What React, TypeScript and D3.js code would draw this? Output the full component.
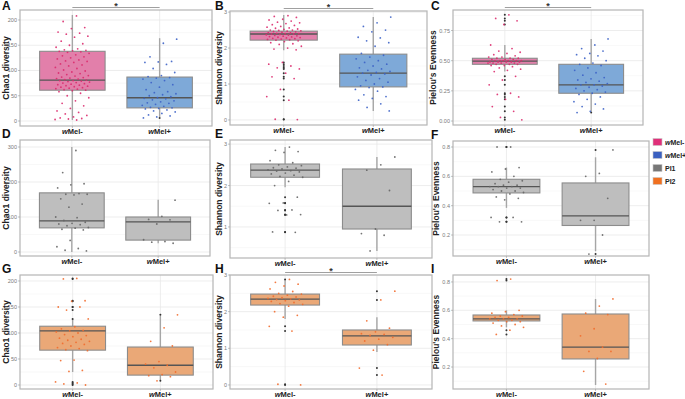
import React from 'react';
import * as d3 from 'd3';

/* ── Data ───────────────────────────────────────────────────────── */
// jittered samples, one array per panel & group
const chaoAllNeg = [208, 197, 185, 183, 176, 174, 172, 168, 166, 158, 153, 150, 146, 143, 141, 140, 139, 138, 137, 136, 134, 131, 129, 127, 125, 123, 121, 119, 118, 116, 113, 111, 109, 106, 104, 101, 99, 97, 95, 94, 92, 90, 89, 87, 86, 85, 84, 83, 82, 81, 80, 80, 79, 78, 77, 76, 75, 74, 73, 72, 71, 70, 69, 68, 67, 66, 65, 64, 63, 62, 61, 60, 58, 55, 50, 46, 40, 35, 30, 25, 20, 17, 14, 11, 8, 6, 5, 4, 3, 2];
const chaoAllPos = [162, 154, 127, 118, 117, 116, 112, 104, 96, 90, 88, 86, 85, 83, 80, 76, 72, 67, 62, 58, 56, 54, 52, 50, 48, 46, 45, 44, 42, 40, 38, 36, 35, 33, 31, 29, 27, 26, 25, 24, 22, 20, 18, 15, 12, 10, 8, 6];
const shanAllNeg = [2.9, 2.88, 2.85, 2.8, 2.78, 2.75, 2.72, 2.7, 2.68, 2.65, 2.63, 2.6, 2.58, 2.56, 2.55, 2.53, 2.52, 2.5, 2.5, 2.49, 2.48, 2.47, 2.46, 2.45, 2.44, 2.43, 2.42, 2.41, 2.4, 2.4, 2.39, 2.39, 2.38, 2.37, 2.36, 2.35, 2.34, 2.33, 2.32, 2.31, 2.3, 2.29, 2.28, 2.27, 2.26, 2.25, 2.24, 2.23, 2.22, 2.2, 2.18, 2.15, 2.12, 2.1, 2.05, 2.0, 1.97, 1.95, 1.6, 1.55, 1.5, 1.45, 1.42, 1.3, 1.2, 1.15, 0.85, 0.65, 0.55, 0.02, 0.01];
const shanAllPos = [2.86, 2.7, 2.6, 2.5, 2.45, 2.3, 2.28, 2.2, 2.15, 2.05, 1.85, 1.8, 1.75, 1.7, 1.65, 1.6, 1.55, 1.5, 1.45, 1.42, 1.38, 1.35, 1.32, 1.3, 1.28, 1.25, 1.2, 1.15, 1.1, 1.05, 1.0, 0.95, 0.92, 0.9, 0.85, 0.8, 0.7, 0.65, 0.6, 0.55, 0.45, 0.35, 0.25];
const pielAllNeg = [0.88, 0.85, 0.83, 0.8, 0.63, 0.6, 0.58, 0.57, 0.56, 0.55, 0.54, 0.53, 0.53, 0.52, 0.52, 0.52, 0.51, 0.51, 0.51, 0.5, 0.5, 0.5, 0.5, 0.5, 0.5, 0.49, 0.49, 0.49, 0.49, 0.49, 0.48, 0.48, 0.48, 0.48, 0.47, 0.47, 0.47, 0.46, 0.46, 0.45, 0.44, 0.43, 0.42, 0.41, 0.37, 0.34, 0.3, 0.23, 0.22, 0.2, 0.18, 0.12, 0.08, 0.03, 0.01];
const pielAllPos = [0.68, 0.63, 0.6, 0.58, 0.56, 0.55, 0.54, 0.52, 0.5, 0.48, 0.47, 0.46, 0.44, 0.42, 0.4, 0.38, 0.36, 0.35, 0.34, 0.33, 0.32, 0.31, 0.3, 0.3, 0.29, 0.28, 0.27, 0.26, 0.25, 0.24, 0.23, 0.22, 0.2, 0.18, 0.16, 0.14, 0.12, 0.1, 0.08, 0.07];

const chaoPI1Neg = [290, 227, 195, 192, 183, 167, 165, 165, 163, 152, 137, 128, 100, 98, 90, 85, 82, 80, 78, 75, 70, 68, 65, 63, 33, 15, 10, 5, 3];
const chaoPI1Pos = [148, 102, 93, 92, 80, 35, 30, 28, 25];
const shanPI1Neg = [2.93, 2.85, 2.82, 2.8, 2.6, 2.55, 2.5, 2.48, 2.45, 2.43, 2.42, 2.4, 2.38, 2.36, 2.35, 2.33, 2.3, 2.28, 2.25, 2.22, 2.2, 2.1, 2.0, 1.72, 1.58, 1.57, 1.41, 1.4, 1.3, 1.29, 0.88, 0.87];
const shanPI1Pos = [2.69, 2.5, 2.37, 1.88, 0.95, 0.84, 0.8, 0.42];
const pielPI1Neg = [0.8, 0.8, 0.66, 0.65, 0.63, 0.6, 0.58, 0.57, 0.56, 0.55, 0.54, 0.54, 0.53, 0.53, 0.53, 0.52, 0.52, 0.51, 0.5, 0.5, 0.49, 0.48, 0.46, 0.45, 0.44, 0.32, 0.32, 0.29, 0.29];
const pielPI1Pos = [0.78, 0.62, 0.6, 0.45, 0.3, 0.3, 0.2, 0.07];

const chaoPI2Neg = [205, 204, 162, 161, 150, 150, 144, 127, 112, 108, 105, 104, 102, 100, 97, 95, 93, 90, 88, 86, 84, 82, 80, 78, 75, 72, 70, 68, 66, 48, 47, 28, 26, 6, 4, 2, 0];
const chaoPI2Pos = [135, 110, 84, 75, 45, 40, 38, 33, 25, 20, 18, 16, 8];
const shanPI2Neg = [2.88, 2.8, 2.75, 2.7, 2.62, 2.55, 2.5, 2.48, 2.45, 2.42, 2.4, 2.38, 2.36, 2.35, 2.33, 2.32, 2.3, 2.28, 2.25, 2.22, 2.2, 2.15, 2.0, 1.9, 1.85, 1.6, 1.47, 0.02, 0.0];
const shanPI2Pos = [2.56, 2.32, 1.75, 1.55, 1.45, 1.4, 1.38, 1.35, 1.3, 1.25, 1.2, 1.1, 0.95, 0.46, 0.27];
const pielPI2Neg = [0.82, 0.81, 0.6, 0.59, 0.58, 0.57, 0.56, 0.56, 0.55, 0.55, 0.54, 0.54, 0.54, 0.53, 0.53, 0.52, 0.52, 0.51, 0.5, 0.49, 0.48, 0.46, 0.43];
const pielPI2Pos = [0.68, 0.63, 0.58, 0.57, 0.47, 0.42, 0.34, 0.31, 0.31, 0.26, 0.17, 0.08];

// box stats: [lower whisker, q1, median, q3, upper whisker]
const boxA = [[2, 61, 81, 138, 210], [8, 26, 46, 87, 164]];
const boxB = [[1.94, 2.22, 2.39, 2.47, 2.92], [0.25, 0.92, 1.3, 1.83, 2.86]];
const boxC = [[0.41, 0.47, 0.497, 0.52, 0.63], [0.08, 0.23, 0.3, 0.47, 0.68]];
const boxD = [[0, 69, 89, 169, 300], [25, 34, 86, 100, 149]];
const boxE = [[1.96, 2.2, 2.37, 2.52, 2.93], [0.42, 0.95, 1.5, 2.4, 2.69]];
const boxF = [[0.385, 0.487, 0.53, 0.58, 0.66], [0.09, 0.265, 0.33, 0.555, 0.73]];
const boxG = [[25, 67, 104, 113, 126], [9, 19, 38, 73, 133]];
const boxH = [[1.8, 2.18, 2.34, 2.48, 2.86], [0.9, 1.09, 1.34, 1.5, 1.85]];
const boxI = [[0.48, 0.525, 0.54, 0.567, 0.6], [0.073, 0.257, 0.34, 0.574, 0.68]];

const legendLabels = ['wMel-', 'wMel+', 'PI1', 'PI2'];

/* ── Styles ────────────────────────────────────────────────────── */
const FONT = '"Liberation Sans", Arial, sans-serif';
const PAL = {
  neg: { pt: '#DC2B6E', box: '#E27FAA', key: '#E0307A' },
  pos: { pt: '#3C62C6', box: '#7EA9D8', key: '#3A60C0' },
  pi1: { pt: '#666666', box: '#BEBEBE', key: '#777777' },
  pi2: { pt: '#F26B2C', box: '#EAA877', key: '#F07020' },
};

const chaoTitle = 'Chao1 diversity';
const shanTitle = 'Shannon diversity';
const pielTitle = "Pielou's Evenness";

const f0 = (d: number) => String(d);
const f2 = d3.format('.2f');
const f1 = d3.format('.1f');

// r = [left, right, top, bottom] of the panel frame; tx = y-title x; lx/ly = tag anchor
const panels = [
  { tag: 'A', title: chaoTitle, pts: [chaoAllNeg, chaoAllPos], box: boxA, dom: [-9.9, 219.8], ticks: [0, 50, 100, 150, 200], fmt: f0, col: [PAL.neg, PAL.pos], sig: true, r: [20, 212, 10, 126], tx: 9, lx: 2, ly: 10 },
  { tag: 'B', title: shanTitle, pts: [shanAllNeg, shanAllPos], box: boxB, dom: [-0.14, 3.03], ticks: [0, 1, 2, 3], fmt: f0, col: [PAL.neg, PAL.pos], sig: true, r: [230, 427, 11, 125], tx: 222, lx: 215, ly: 10 },
  { tag: 'C', title: pielTitle, pts: [pielAllNeg, pielAllPos], box: boxC, dom: [-0.033, 0.92], ticks: [0, 0.25, 0.5, 0.75], fmt: f2, col: [PAL.neg, PAL.pos], sig: true, r: [453, 643, 10, 125], tx: 436, lx: 431, ly: 10 },
  { tag: 'D', title: chaoTitle, pts: [chaoPI1Neg, chaoPI1Pos], box: boxD, dom: [-11.4, 320], ticks: [0, 100, 200, 300], fmt: f0, col: [PAL.pi1, PAL.pi1], sig: false, r: [20, 210, 140, 256], tx: 9, lx: 2, ly: 138 },
  { tag: 'E', title: shanTitle, pts: [shanPI1Neg, shanPI1Pos], box: boxE, dom: [0.25, 3.1], ticks: [1, 2, 3], fmt: f0, col: [PAL.pi1, PAL.pi1], sig: false, r: [230, 432, 140, 258], tx: 222, lx: 215, ly: 138 },
  { tag: 'F', title: pielTitle, pts: [pielPI1Neg, pielPI1Pos], box: boxF, dom: [0.057, 0.841], ticks: [0.2, 0.4, 0.6, 0.8], fmt: f1, col: [PAL.pi1, PAL.pi1], sig: false, r: [453, 649, 141, 256], tx: 439, lx: 431, ly: 139 },
  { tag: 'G', title: chaoTitle, pts: [chaoPI2Neg, chaoPI2Pos], box: boxG, dom: [-7.7, 211.5], ticks: [0, 50, 100, 150, 200], fmt: f0, col: [PAL.pi2, PAL.pi2], sig: false, r: [20, 213, 275, 389], tx: 9, lx: 2, ly: 273 },
  { tag: 'H', title: shanTitle, pts: [shanPI2Neg, shanPI2Pos], box: boxH, dom: [-0.11, 3.0], ticks: [0, 1, 2, 3], fmt: f0, col: [PAL.pi2, PAL.pi2], sig: true, r: [230, 432, 275, 389], tx: 222, lx: 215, ly: 273 },
  { tag: 'I', title: pielTitle, pts: [pielPI2Neg, pielPI2Pos], box: boxI, dom: [0.045, 0.849], ticks: [0.2, 0.4, 0.6, 0.8], fmt: f1, col: [PAL.pi2, PAL.pi2], sig: false, r: [453, 649, 275, 389], tx: 439, lx: 431, ly: 273 },
];

// deterministic jitter offset (golden-ratio sequence), in category units
const jit = (i: number, g: number) => ((((i + 1) * 0.6180339 + g * 0.37) % 1) - 0.5) * 0.4;

const GroupLabel = ({ text, x, y }: { text: string; x: number; y: number }) => (
  <text x={x} y={y} textAnchor="middle" fontSize={7.5} fontWeight="bold" fill="#222">
    <tspan fontStyle="italic">w</tspan>{text.slice(1)}
  </text>
);

const Panel = ({ p }: { p: typeof panels[number] }) => {
  const [x0, x1, y0, y1] = p.r;
  const x = d3.scaleLinear().domain([0.4, 2.6]).range([x0, x1]);
  const y = d3.scaleLinear().domain(p.dom).range([y1, y0]);
  const step = p.ticks[1] - p.ticks[0];
  const minor = d3.range(p.ticks[0] - step / 2, p.dom[1], step).filter(v => v > p.dom[0] && v < p.dom[1]);
  const bw = 0.375;
  return (
    <g>
      {/* grid */}
      {minor.map(v => <line key={'m' + v} x1={x0} x2={x1} y1={y(v)} y2={y(v)} stroke="#F3F3F3" strokeWidth={0.6} />)}
      {p.ticks.map(v => <line key={'t' + v} x1={x0} x2={x1} y1={y(v)} y2={y(v)} stroke="#E8E8E8" strokeWidth={0.8} />)}
      {[1, 2].map(c => <line key={'c' + c} x1={x(c)} x2={x(c)} y1={y0} y2={y1} stroke="#E8E8E8" strokeWidth={0.8} />)}

      {/* boxes */}
      {p.box.map((b, gi) => {
        const c = gi + 1;
        const [lo, q1, md, q3, hi] = b;
        return (
          <g key={'b' + gi}>
            <line x1={x(c)} x2={x(c)} y1={y(hi)} y2={y(q3)} stroke="#A6A6A6" strokeWidth={1.4} />
            <line x1={x(c)} x2={x(c)} y1={y(q1)} y2={y(lo)} stroke="#A6A6A6" strokeWidth={1.4} />
            <rect x={x(c - bw)} width={x(c + bw) - x(c - bw)} y={y(q3)} height={y(q1) - y(q3)}
              fill={p.col[gi].box} stroke="#8C8C8C" strokeWidth={1.1} />
            <line x1={x(c - bw)} x2={x(c + bw)} y1={y(md)} y2={y(md)} stroke="#555" strokeWidth={1.3} />
          </g>
        );
      })}

      {/* outliers (boxplot) */}
      {p.pts.map((arr, gi) => arr.filter(v => v < p.box[gi][0] || v > p.box[gi][4]).map((v, i) => (
        <circle key={'o' + gi + '-' + i} cx={x(gi + 1)} cy={y(v)} r={1} fill="#333" />
      )))}

      {/* jittered samples */}
      {p.pts.map((arr, gi) => arr.map((v, i) => (
        <circle key={'p' + gi + '-' + i} cx={x(gi + 1 + jit(i, gi))} cy={y(v)} r={0.9} fill={p.col[gi].pt} opacity={0.9} />
      )))}

      {/* frame */}
      <rect x={x0} y={y0} width={x1 - x0} height={y1 - y0} fill="none" stroke="#B5B5B5" strokeWidth={1.2} />

      {/* y axis */}
      {p.ticks.map(v => (
        <g key={'yl' + v}>
          <line x1={x0 - 2} x2={x0} y1={y(v)} y2={y(v)} stroke="#999" strokeWidth={0.6} />
          <text x={x0 - 3} y={y(v) + 2} textAnchor="end" fontSize={5.5} fill="#7A7A7A">{p.fmt(v)}</text>
        </g>
      ))}
      <text transform={`translate(${p.tx},${(y0 + y1) / 2}) rotate(-90)`} textAnchor="middle" fontSize={8.5} fontWeight="bold" fill="#222">{p.title}</text>

      {/* x axis */}
      {[1, 2].map(c => <line key={'xt' + c} x1={x(c)} x2={x(c)} y1={y1} y2={y1 + 2} stroke="#999" strokeWidth={0.6} />)}
      {[1, 2].map(c => <GroupLabel key={'xl' + c} text={legendLabels[c - 1]} x={x(c)} y={y1 + 7.5} />)}

      {/* significance */}
      {p.sig && (
        <g>
          <line x1={x(1)} x2={x(2)} y1={y0 - 2.5} y2={y0 - 2.5} stroke="#A0A0A0" strokeWidth={1.1} />
          <text x={(x(1) + x(2)) / 2} y={y0 - 1.5} textAnchor="middle" fontSize={9} fontWeight="bold" fill="#333">*</text>
        </g>
      )}

      {/* tag */}
      <text x={p.lx} y={p.ly} fontSize={12} fontWeight="bold" fill="#111">{p.tag}</text>
    </g>
  );
};

const Legend = () => {
  const keys = [PAL.neg.key, PAL.pos.key, PAL.pi1.key, PAL.pi2.key];
  const ly = d3.scalePoint<number>().domain(d3.range(4)).range([142, 181]);
  return (
    <g>
      {keys.map((k, i) => (
        <g key={i}>
          <rect x={653} y={ly(i)! - 3.5} width={9} height={7} fill={k} stroke="#C8C8C8" strokeWidth={0.6} />
          {i < 2
            ? <text x={665} y={ly(i)! + 2.5} fontSize={7} fontWeight="bold" fill="#222"><tspan fontStyle="italic">w</tspan>{legendLabels[i].slice(1)}</text>
            : <text x={665} y={ly(i)! + 2.5} fontSize={7} fontWeight="bold" fill="#222">{legendLabels[i]}</text>}
        </g>
      ))}
    </g>
  );
};

export default function App() {
  return (
    <div style={{ position: 'fixed', left: 0, top: 0 }}>
      <svg width={685} height={399} style={{ display: 'block', fontFamily: FONT, background: '#fff' }}>
        {panels.map(p => <Panel key={p.tag} p={p} />)}
        <Legend />
      </svg>
    </div>
  );
}
